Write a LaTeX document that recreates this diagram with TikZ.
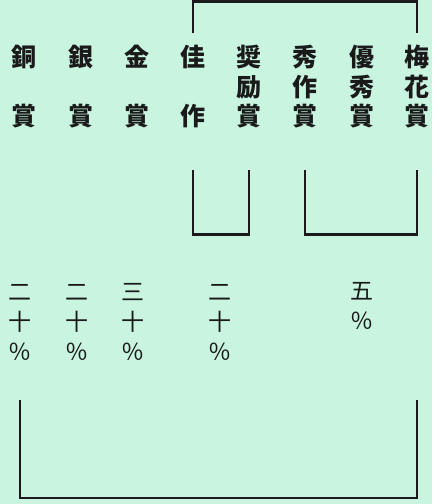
\documentclass[tikz,border=0pt]{standalone}
\usepackage{fontspec}
\newfontfamily\jp{Noto Sans CJK JP}
\usetikzlibrary{calc,positioning}
\definecolor{paper}{HTML}{C8F4E0}
\definecolor{ink}{HTML}{1A1A1A}
\tikzset{award/.style={align=center,inner sep=0pt,text=ink,font=\jp\bfseries\fontsize{25}{29.5}\selectfont},
share/.style={align=center,inner sep=0pt,text=ink,font=\jp\fontsize{23}{30}\selectfont},
bracket/.style={draw=ink,line width=2.5pt}}

\begin{document}
\begin{tikzpicture}[x=1pt,y=1pt]
\fill[paper] (0,0) rectangle (432,504);
\useasboundingbox (0,0) rectangle (432,504);
\node[award] (c1) at (24,417) {銅\\\phantom{賞}\\賞};
\node[award] (c2) at (81,417) {銀\\\phantom{賞}\\賞};
\node[award] (c3) at (137,417) {金\\\phantom{賞}\\賞};
\node[award] (c4) at (193,417) {佳\\\phantom{賞}\\作};
\node[award] (c5) at (249,417) {奨\\励\\賞};
\node[award] (c6) at (305,417) {秀\\作\\賞};
\node[award] (c7) at (362,417) {優\\秀\\賞};
\node[award] (c8) at (417,417) {梅\\花\\賞};
\node[share] (p1) at (20,182) {二\\十\\％};
\node[share] (p2) at (77,182) {二\\十\\％};
\node[share] (p3) at (133,182) {三\\十\\％};
\node[share] (p4) at (220,182) {二\\十\\％};
\node[share] (p5) at (362,198) {五\\％};
\draw[bracket] (c4.north) ++(0,12) -- ++(0,32) -| ([yshift=12pt]c8.north);
\draw[bracket] ([yshift=-41pt]c4.south) -- ++(0,-65) -| ([yshift=-41pt]c5.south);
\draw[bracket] ([yshift=-41pt]c6.south) -- ++(0,-65) -| ([yshift=-41pt]c8.south);
\coordinate (bl) at ([yshift=-40pt]p1.south);
\draw[bracket] (bl) -- ++(0,-98) -| (bl -| c8);
\end{tikzpicture}
\end{document}
